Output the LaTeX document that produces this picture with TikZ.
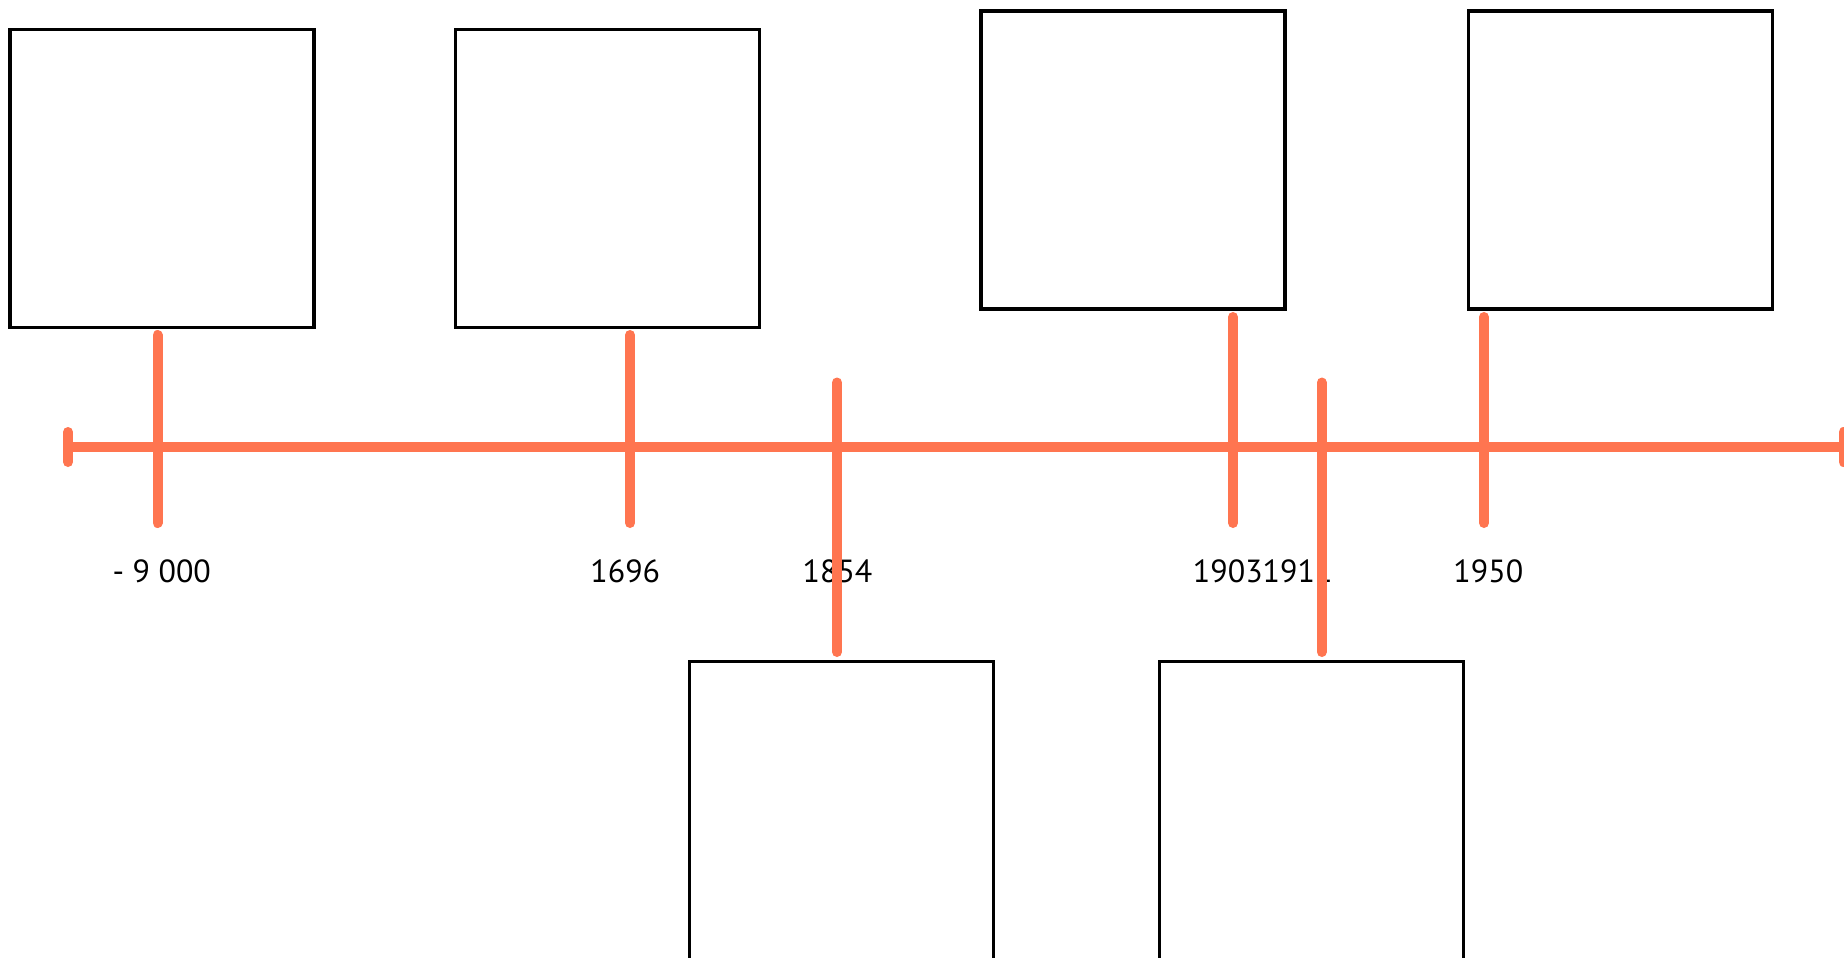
\documentclass[tikz,border=0pt]{standalone}
\usepackage{fontspec}
\setmainfont{PT Sans}
\begin{document}
\begin{tikzpicture}[x=1pt,y=-1pt,
  eventbox/.style={draw=black,line width=3.3pt,minimum width=304pt,minimum height=298pt,inner sep=0pt,fill=white},
  axisline/.style={draw=tlorange,line width=10pt,line cap=round},
  yearlabel/.style={anchor=base,inner sep=0pt,font=\fontsize{32}{38}\selectfont}]
\definecolor{tlorange}{RGB}{255,117,80}
\useasboundingbox[fill=white] (0,0) rectangle (1844,958);
% boxes
\node[eventbox] (b1) at (162,178.5) {};
\node[eventbox] (b2) at (607.5,178.5) {};
\node[eventbox] (b3) at (1133,160) {};
\node[eventbox] (b4) at (1620.3,160) {};
\node[eventbox] (b5) at (841.5,810.5) {};
\node[eventbox] (b6) at (1311.7,810.5) {};
% labels
\node[yearlabel] (l1) at (161.7,582.7) {- 9 000};
\node[yearlabel] (l2) at (625.3,582.7) {1696};
\node[yearlabel] (l3) at (837.5,582.7) {1854};
\node[yearlabel] (l4) at (1262.7,582.7) {19031911};
\node[yearlabel] (l5) at (1488.3,582.7) {1950};
% axis
\coordinate (a0) at (68,446.7);
\coordinate (a1) at (1843.5,446.7);
\coordinate (c0t) at (68,432);
\coordinate (c0b) at (68,462);
\coordinate (c1t) at (1843.5,432);
\coordinate (c1b) at (1843.5,462);
\draw[axisline] (a0) -- (a1);
\draw[axisline] (c0t) -- (c0b);
\draw[axisline] (c1t) -- (c1b);
% ticks
\coordinate (t1a) at (157.5,335);  \coordinate (t1b) at (157.5,523);
\coordinate (t2a) at (630,335);    \coordinate (t2b) at (630,523);
\coordinate (t3a) at (837,382.5);  \coordinate (t3b) at (837,652);
\coordinate (t4a) at (1233,317);   \coordinate (t4b) at (1233,523);
\coordinate (t5a) at (1321.7,382.5); \coordinate (t5b) at (1321.7,652);
\coordinate (t6a) at (1484,317);   \coordinate (t6b) at (1484,523);
\draw[axisline] (t1a) -- (t1b);
\draw[axisline] (t2a) -- (t2b);
\draw[axisline] (t3a) -- (t3b);
\draw[axisline] (t4a) -- (t4b);
\draw[axisline] (t5a) -- (t5b);
\draw[axisline] (t6a) -- (t6b);
\end{tikzpicture}
\end{document}
